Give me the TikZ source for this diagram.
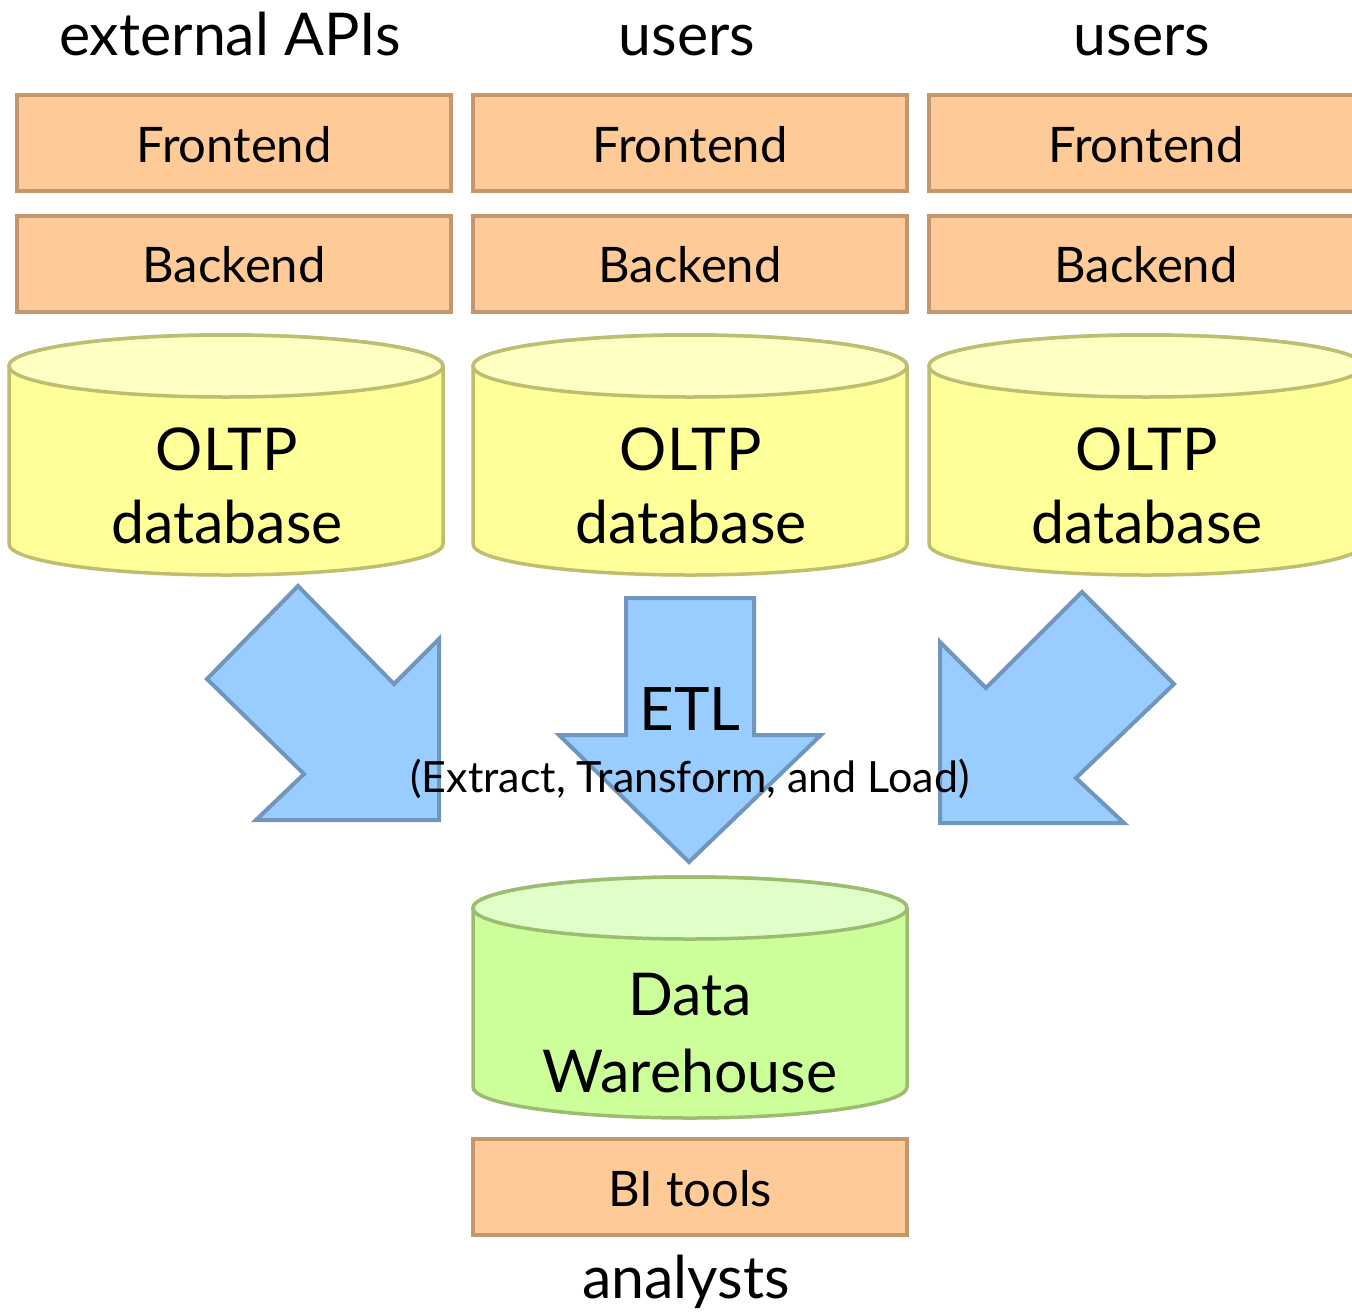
\documentclass[tikz,border=0pt]{standalone}
\usepackage{fontspec}
\setmainfont{Lato}
\definecolor{boxfill}{HTML}{FECB98}
\definecolor{boxline}{HTML}{C4986C}
\definecolor{ybody}{HTML}{FFFF99}
\definecolor{ytop}{HTML}{FFFFC4}
\definecolor{yline}{HTML}{BEBE70}
\definecolor{gbody}{HTML}{CCFF99}
\definecolor{gtop}{HTML}{E0FFC8}
\definecolor{gline}{HTML}{9CBC70}
\definecolor{afill}{HTML}{99CCFF}
\definecolor{aline}{HTML}{7096BE}
\newcommand\mycyl[6]{%
  \path[draw=#6, fill=#4, line width=3.5pt] ({#1-217},#2) -- ({#1-217},#3)
    arc[start angle=180,end angle=0,x radius=217,y radius=31]
    -- ({#1+217},#2)
    arc[start angle=0,end angle=-180,x radius=217,y radius=31] -- cycle;
  \path[draw=#6, fill=#5, line width=3.5pt] (#1,#2) ellipse[x radius=217, y radius=31];
}
\begin{document}
\begin{tikzpicture}[x=1pt,y=-1pt,
  box/.style={draw=boxline, fill=boxfill, line width=4pt, minimum width=434pt,
    minimum height=96pt, inner sep=0pt, text height=38pt, text depth=0pt,
    font=\fontsize{49}{55}\selectfont},
  toplbl/.style={anchor=base, inner sep=0pt, font=\fontsize{59}{64}\selectfont},
  dbtxt/.style={anchor=base, inner sep=0pt, font=\fontsize{59}{64}\selectfont},
  arrowshape/.style={draw=aline, fill=afill, line width=4pt, line join=miter},
  etl/.style={anchor=base, inner sep=0pt, font=\fontsize{60}{64}\selectfont},
  etlsub/.style={anchor=base, inner sep=0pt, font=\fontsize{43}{46}\selectfont}
]
\useasboundingbox (0,0) rectangle (1352,1315);
\clip (0,0) rectangle (1352,1315);
\fill[white] (0,0) rectangle (1352,1315);

% top labels
\node[toplbl] (l1) at (230,55) {external APIs};
\node[toplbl] (l2) at (687,55) {users};
\node[toplbl] (l3) at (1142,55) {users};

% frontends and backends
\node[box] (fe1) at (234,143) {Frontend};
\node[box] (fe2) at (690,143) {Frontend};
\node[box] (fe3) at (1146,143) {Frontend};
\node[box] (be1) at (234,263.5) {Backend};
\node[box] (be2) at (690,263.5) {Backend};
\node[box] (be3) at (1146,263.5) {Backend};

% OLTP databases
\mycyl{226}{366}{544}{ybody}{ytop}{yline}
\mycyl{690}{366}{544}{ybody}{ytop}{yline}
\mycyl{1146}{366}{544}{ybody}{ytop}{yline}
\node[dbtxt] (d1a) at (227,470) {OLTP};
\node[dbtxt] (d1b) at (227,543) {database};
\node[dbtxt] (d2a) at (691,470) {OLTP};
\node[dbtxt] (d2b) at (691,543) {database};
\node[dbtxt] (d3a) at (1147,470) {OLTP};
\node[dbtxt] (d3b) at (1147,543) {database};

% ETL arrows
\path[arrowshape] (298,586) -- (394,684) -- (439,639) -- (439,820) -- (256,820) -- (304,774) -- (207,679) -- cycle;
\path[arrowshape] (1082,592) -- (1174,684) -- (1076,778) -- (1124,823) -- (940,823) -- (940,642) -- (986,688) -- cycle;
\path[arrowshape] (626,598) -- (754,598) -- (754,735) -- (821,735) -- (689,862) -- (559,735) -- (626,735) -- cycle;
\node[etl] (etl) at (690,730) {ETL};
\node[etlsub] (etlsub) at (690,792) {(Extract, Transform, and Load)};

% Data warehouse
\mycyl{690}{908}{1087}{gbody}{gtop}{gline}
\node[dbtxt] (dwa) at (690,1015) {Data};
\node[dbtxt] (dwb) at (690,1092) {Warehouse};

% BI tools
\node[box] (bi) at (690,1187) {BI tools};
\node[toplbl] (an) at (686,1298) {analysts};
\end{tikzpicture}
\end{document}
